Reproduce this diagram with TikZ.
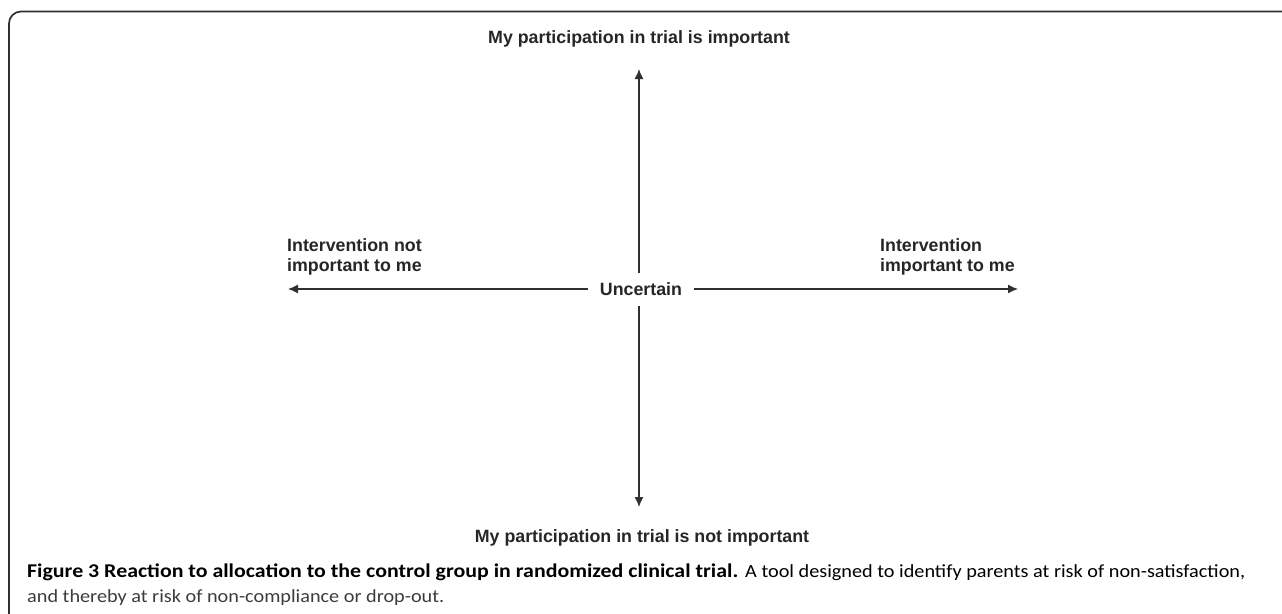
\documentclass[tikz,border=0pt]{standalone}
\usepackage{graphicx}
\usepackage{fontspec}
\setmainfont{Liberation Sans}
\newfontfamily\capfont{Carlito}
\usetikzlibrary{arrows.meta}
\definecolor{ink}{HTML}{262626}
\definecolor{capreg}{HTML}{3C3C3C}
\definecolor{linec}{HTML}{303030}
\newsavebox\capboldbox
\newsavebox\capregbox
\newlength\capboldlen
\newlength\capreglen
\begin{document}
\sbox\capboldbox{\capfont\fontsize{19.5}{22}\selectfont\bfseries Figure 3 Reaction to allocation to the control group in randomized clinical trial.}%
\sbox\capregbox{\capfont\fontsize{18.5}{22}\selectfont A tool designed to identify parents at risk of non-satisfaction,}%
\setlength\capboldlen{\wd\capboldbox}%
\setlength\capreglen{\wd\capregbox}%
\pgfmathsetmacro\boldsx{711/\capboldlen}%
\pgfmathsetmacro\regsx{500/\capreglen}%
\begin{tikzpicture}[x=1pt,y=-1pt,
  lbl/.style={font=\fontsize{17.8}{20}\selectfont\bfseries, text=ink},
  arr/.style={draw=linec, line width=1.3pt, -{Latex[length=10pt,width=9pt]}},
  captxt/.style={text=ink, anchor=base west, inner sep=0pt}]
\useasboundingbox (0,0) rectangle (1282,613);
\begin{scope}
\clip (0,0) rectangle (1282,613);
\draw[linec, line width=1.7pt, rounded corners=12pt] (9,700) -- (9,11.5) -- (1300,11.5);
\end{scope}
\node[lbl, anchor=base] (top) at (639,43) {My participation in trial is important};
\node[lbl, anchor=base] (bot) at (642,542) {My participation in trial is not important};
\node[lbl, inner xsep=12pt, inner ysep=10pt] (c) at (641,289.5) {Uncertain};
\coordinate (tt) at (639,69);
\coordinate (bt) at (639,507);
\coordinate (lt) at (288,289);
\coordinate (rt) at (1018,289);
\draw[arr] (c.north -| tt) -- (tt);
\draw[arr] (c.south -| bt) -- (bt);
\draw[arr] (c.west |- lt) -- (lt);
\draw[arr] (c.east |- rt) -- (rt);
\node[lbl, anchor=north west, align=left, inner sep=0pt] (l) at (287,238) {Intervention not\\important to me};
\node[lbl, anchor=north west, align=left, inner sep=0pt] (r) at (880,238) {Intervention\\important to me};
\node[captxt] (cap1) at (27,577) {\scalebox{\boldsx}[1]{\usebox\capboldbox}};
\node[captxt, text=capreg] (cap1r) at (745,577) {\scalebox{\regsx}[1]{\usebox\capregbox}};
\node[captxt, text=capreg] (cap2) at (27,602) {\scalebox{\regsx}[1]{\capfont\fontsize{18.5}{22}\selectfont and thereby at risk of non-compliance or drop-out.}};
\end{tikzpicture}
\end{document}
